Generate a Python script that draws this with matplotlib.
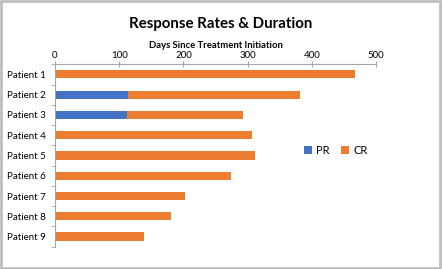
import matplotlib.pyplot as plt
from matplotlib.patches import Rectangle

patients = ["Patient 1", "Patient 2", "Patient 3", "Patient 4", "Patient 5",
            "Patient 6", "Patient 7", "Patient 8", "Patient 9"]
pr_days = [0, 113, 112, 0, 0, 0, 0, 0, 0]
cr_days = [467, 269, 181, 307, 312, 274, 202, 181, 139]
ticks = [0, 100, 200, 300, 400, 500]

blue = "#4472C4"
orange = "#ED7D31"
grey = "#A6A6A6"

plt.rcParams['font.family'] = ['Lato', 'DejaVu Sans']

fig = plt.figure(figsize=(4.42, 2.69), dpi=100)
ax = fig.add_axes([0.1244, 0.083, 0.7262, 0.678])

y = list(range(len(patients)))
ax.barh(y, pr_days, height=0.4, color=blue, label="PR")
ax.barh(y, cr_days, left=pr_days, height=0.4, color=orange, label="CR")

ax.set_ylim(len(patients) - 0.5, -0.5)
ax.set_yticks(y)
ax.set_yticklabels(patients, fontsize=7)
ax.set_yticks([i - 0.5 for i in range(len(patients) + 1)], minor=True)
ax.tick_params(axis='y', which='major', length=0, pad=6.5)
ax.tick_params(axis='y', which='minor', length=3, color=grey, direction='out')

ax.set_xlim(0, 500)
ax.set_xticks(ticks)
ax.xaxis.tick_top()
ax.xaxis.set_label_position('top')
ax.tick_params(axis='x', labelsize=7, length=4, color=grey, direction='inout', pad=1)
ax.set_xlabel("Days Since Treatment Initiation", fontsize=6.8, fontweight='bold', labelpad=2)

for s in ['right', 'bottom']:
    ax.spines[s].set_visible(False)
ax.spines['top'].set_color(grey)
ax.spines['left'].set_color(grey)

ax.legend(loc='center left', bbox_to_anchor=(0.745, 0.53), frameon=False, ncol=2,
          fontsize=8, handlelength=0.7, handleheight=0.7, columnspacing=1.0, handletextpad=0.4)

fig.text(0.5, 0.912, "Response Rates & Duration", ha='center', va='center',
         fontsize=10.8, fontweight='bold')

fig.patches.append(Rectangle((0.002, 0.004), 0.994, 0.992, transform=fig.transFigure,
                             fill=False, edgecolor="#BFBFBF", linewidth=2))

fig.savefig("out.png", dpi=100)
